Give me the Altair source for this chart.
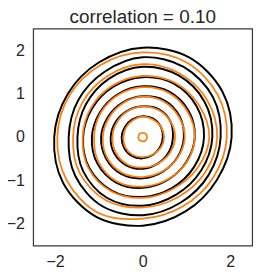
import numpy as np
import pandas as pd
import altair as alt

# angles (degrees, counter-clockwise from +x) at which each contour's radius was read
angles = [0, 30, 60, 90, 120, 150, 180, 210, 240, 270, 300, 330]

# black contours: radius at each angle, outer to inner
black_radii = [
    [2.03, 2.10, 2.12, 2.06, 1.99, 1.98, 2.02, 2.10, 2.12, 2.04, 1.97, 1.96],
    [1.78, 1.85, 1.87, 1.84, 1.74, 1.70, 1.69, 1.78, 1.84, 1.80, 1.74, 1.74],
    [1.59, 1.63, 1.64, 1.62, 1.55, 1.50, 1.49, 1.57, 1.62, 1.58, 1.53, 1.54],
    [1.40, 1.42, 1.42, 1.38, 1.34, 1.33, 1.36, 1.41, 1.42, 1.38, 1.35, 1.36],
    [1.19, 1.21, 1.21, 1.17, 1.14, 1.13, 1.16, 1.20, 1.21, 1.17, 1.14, 1.15],
    [0.94, 0.97, 0.98, 0.94, 0.92, 0.92, 0.95, 0.97, 0.98, 0.95, 0.92, 0.92],
    [0.69, 0.73, 0.74, 0.71, 0.70, 0.71, 0.73, 0.75, 0.75, 0.73, 0.70, 0.69],
    [0.46, 0.48, 0.49, 0.48, 0.47, 0.47, 0.48, 0.49, 0.50, 0.49, 0.47, 0.46],
]

# orange contours: radius at each angle, outer to inner (last one is the small peak ring)
orange_radii = [
    [1.92, 1.97, 1.99, 1.95, 1.92, 1.93, 1.95, 2.00, 2.02, 1.88, 1.84, 1.86],
    [1.70, 1.70, 1.69, 1.68, 1.62, 1.59, 1.59, 1.66, 1.68, 1.62, 1.60, 1.64],
    [1.52, 1.48, 1.45, 1.41, 1.37, 1.36, 1.37, 1.43, 1.44, 1.40, 1.38, 1.44],
    [1.19, 1.18, 1.18, 1.15, 1.12, 1.11, 1.11, 1.16, 1.18, 1.14, 1.13, 1.16],
    [0.96, 0.95, 0.95, 0.93, 0.90, 0.89, 0.91, 0.94, 0.95, 0.92, 0.91, 0.93],
    [0.74, 0.73, 0.72, 0.71, 0.69, 0.68, 0.69, 0.71, 0.72, 0.70, 0.70, 0.72],
    [0.49, 0.48, 0.47, 0.47, 0.45, 0.44, 0.44, 0.46, 0.47, 0.46, 0.46, 0.48],
    [0.10, 0.10, 0.10, 0.10, 0.10, 0.10, 0.10, 0.10, 0.10, 0.10, 0.10, 0.10],
]

x_ticks = [-2, 0, 2]
y_ticks = [-2, -1, 0, 1, 2]
title_text = "correlation = 0.10"


def rings_to_frame(radii, name):
    rows = []
    for k, ring in enumerate(radii):
        for i, (a, r) in enumerate(zip(angles, ring)):
            t = np.deg2rad(a)
            rows.append({"ring": f"{name}{k}", "i": i,
                         "x": r * np.cos(t), "y": r * np.sin(t)})
    return pd.DataFrame(rows)


black_df = rings_to_frame(black_radii, "b")
orange_df = rings_to_frame(orange_radii, "o")

xs = alt.Scale(domain=[-2.5, 2.5], nice=False, zero=False)
ys = alt.Scale(domain=[-2.5, 2.5], nice=False, zero=False)
xax = alt.Axis(values=x_ticks, title="", grid=False, domain=False, ticks=False,
               labelPadding=9, labelExpr="replace(datum.label, '-', '−')")
yax = alt.Axis(values=y_ticks, title="", grid=False, domain=False, ticks=False,
               labelPadding=9, labelExpr="replace(datum.label, '-', '−')")


def layer(df, color, width):
    return alt.Chart(df).mark_line(
        interpolate="cardinal-closed", color=color, strokeWidth=width, clip=True
    ).encode(
        x=alt.X("x:Q", scale=xs, axis=xax),
        y=alt.Y("y:Q", scale=ys, axis=yax),
        detail="ring:N",
        order="i:Q",
    )


chart = alt.layer(
    layer(black_df, "#000000", 2.0),
    layer(orange_df, "#ff7f0e", 1.8),
).properties(
    width=226,
    height=224,
    autosize=alt.AutoSizeParams(type="none"),
    padding={"left": 26, "top": 17, "right": 6, "bottom": 24},
    title=alt.Title(title_text, fontSize=19.5, font="Liberation Sans",
                    fontWeight="normal", color="#262626", offset=1,
                    anchor="middle"),
).configure_view(
    stroke="#3a3a3a", strokeWidth=1.25
).configure_axis(
    labelFontSize=16.5, labelFont="Liberation Sans", labelColor="#262626"
)

chart.save("out.html", embed_options={"renderer": "svg", "actions": False})
